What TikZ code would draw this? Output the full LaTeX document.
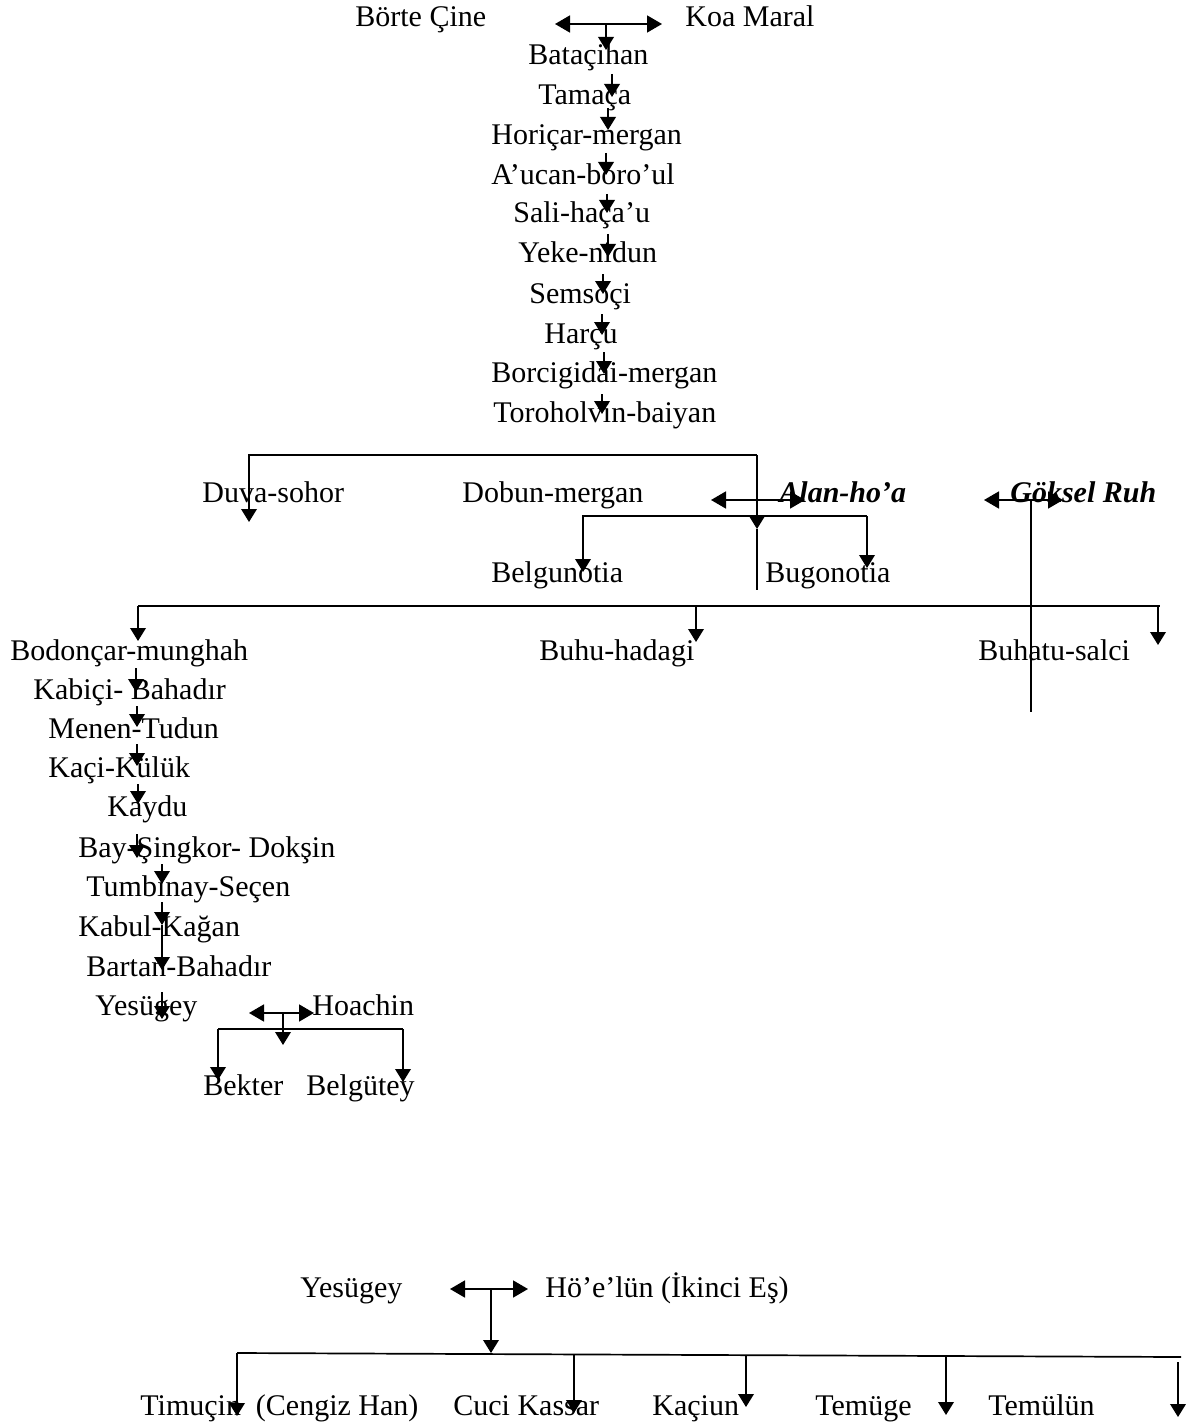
\documentclass[tikz,border=0pt]{standalone}
\usepackage{fontspec}
\setmainfont{Liberation Serif}
\usetikzlibrary{arrows.meta}
\begin{document}
\begin{tikzpicture}[x=0.5pt,y=-0.5pt,
  pname/.style={anchor=base west, inner sep=0pt, font=\fontsize{15pt}{18pt}\selectfont},
  bname/.style={pname, font=\fontsize{15pt}{18pt}\selectfont\bfseries\itshape},
  conn/.style={line width=0.85pt},
  arr/.style={conn, -{Triangle[length=6.5pt,width=7.8pt]}},
  dbl/.style={conn, {Triangle[length=7.5pt,width=8.5pt]}-{Triangle[length=7.5pt,width=8.5pt]}}]
\fill[white] (0,0) rectangle (1186,1423);
\useasboundingbox (0,0) rectangle (1186,1423);

% ---- top chain
\node[pname] (borte) at (355,27) {Börte Çine};
\node[pname] (koa) at (685,27) {Koa Maral};
\node[pname] (bata) at (528,65) {Bataçihan};
\node[pname] (tama) at (538,105) {Tamaça};
\node[pname] (hori) at (491,145) {Horiçar-mergan};
\node[pname] (aucan) at (491,185) {A’ucan-boro’ul};
\node[pname] (sali) at (513,223) {Sali-haça’u};
\node[pname] (yeke) at (518,263) {Yeke-nidun};
\node[pname] (sems) at (529,303) {Semsoçi};
\node[pname] (harcu) at (544,343) {Harçu};
\node[pname] (borc) at (491,382) {Borcigidai-mergan};
\node[pname] (toro) at (493,422) {Toroholvin-baiyan};

% ---- middle
\node[pname] (duva) at (202,502) {Duva-sohor};
\node[pname] (dobun) at (462,502) {Dobun-mergan};
\node[bname] (alan) at (779,502) {Alan-ho’a};
\node[bname] (goksel) at (1010,502) {Göksel Ruh};
\node[pname] (belgu) at (491,582) {Belgunotia};
\node[pname] (bugo) at (765,582) {Bugonotia};
\node[pname] (bodon) at (10,660) {Bodonçar-munghah};
\node[pname] (buhu) at (539,660) {Buhu-hadagi};
\node[pname] (buhatu) at (978,660) {Buhatu-salci};

% ---- lower chain
\node[pname] (kabici) at (33,699) {Kabiçi- Bahadır};
\node[pname] (menen) at (48,738) {Menen-Tudun};
\node[pname] (kaci) at (48,777) {Kaçi-Külük};
\node[pname] (kaydu) at (107,816) {Kaydu};
\node[pname] (bay) at (78,857) {Bay-Şingkor- Dokşin};
\node[pname] (tumb) at (86,896) {Tumbinay-Seçen};
\node[pname] (kabul) at (78,936) {Kabul-Kağan};
\node[pname] (bartan) at (86,976) {Bartan-Bahadır};
\node[pname] (yesu) at (95,1015) {Yesügey};
\node[pname] (hoachin) at (312,1015) {Hoachin};
\node[pname] (bekter) at (203,1095) {Bekter};
\node[pname] (belgut) at (306,1095) {Belgütey};

% ---- bottom
\node[pname] (yesu2) at (300,1297) {Yesügey};
\node[pname] (hoelun) at (545,1297) {Hö’e’lün (İkinci Eş)};
\node[pname] (timucin) at (140,1415) {Timuçin~~(Cengiz Han)};
\node[pname] (cuci) at (453,1415) {Cuci Kassar};
\node[pname] (kaciun) at (652,1415) {Kaçiun};
\node[pname] (temuge) at (815,1415) {Temüge};
\node[pname] (temulun) at (988,1415) {Temülün};

% ---- chain arrows
\foreach \i/\x/\ya/\yb in {1/606/24/50, 2/612/74/97, 3/608/108/130, 4/606/153/175,
  5/607/194/213, 6/608/234/257, 7/603/274/294, 8/602/314/335, 9/604/352/374,
  10/602/394/414, 11/136/668/692, 12/137/706/727, 13/137/744/766, 14/138/784/804,
  15/137/834/858, 16/162/864/884, 17/162/902/925, 18/162/925/970, 19/162/992/1019}{
  \coordinate (cs\i) at (\x,\ya);
  \coordinate (ce\i) at (\x,\yb);
  \draw[arr] (cs\i) -- (ce\i);
}

% ---- couples
\coordinate (d1a) at (555,24); \coordinate (d1b) at (662,24);
\draw[dbl] (d1a) -- (d1b);
\coordinate (d2a) at (711,500); \coordinate (d2b) at (805,500);
\draw[dbl] (d2a) -- (d2b);
\coordinate (d3a) at (984,500); \coordinate (d3b) at (1063,500);
\draw[dbl] (d3a) -- (d3b);
\coordinate (d4a) at (249,1013); \coordinate (d4b) at (314,1013);
\draw[dbl] (d4a) -- (d4b);
\coordinate (d5a) at (450,1289); \coordinate (d5b) at (528,1289);
\draw[dbl] (d5a) -- (d5b);

% ---- Toroholvin split
\coordinate (t0) at (757,455);
\coordinate (t1) at (249,455);
\coordinate (t2) at (249,522);
\coordinate (t3) at (757,529);
\coordinate (t4) at (757,590);
\draw[arr] (t0) -- (t1) -- (t2);
\draw[arr] (t0) -- (t3);
\draw[conn] (t3) -- (t4);

% ---- Goksel Ruh vertical
\coordinate (g0) at (1031,500);
\coordinate (g1) at (1031,712);
\draw[conn] (g0) -- (g1);

% ---- Belgunotia / Bugonotia bracket
\coordinate (b0) at (583,516);
\coordinate (b1) at (867,516);
\coordinate (b2) at (583,572);
\coordinate (b3) at (867,568);
\draw[arr] (b1) -- (b0) -- (b2);
\draw[arr] (b1) -- (b3);

% ---- big line to three sons
\coordinate (s0) at (138,606);
\coordinate (s1) at (1160,606);
\coordinate (s2) at (696,606);
\coordinate (s3) at (1158,606);
\coordinate (e0) at (138,641);
\coordinate (e1) at (1158,645);
\coordinate (e2) at (696,642);
\draw[conn] (s0) -- (s1);
\draw[arr] (s0) -- (e0);
\draw[arr] (s2) -- (e2);
\draw[arr] (s3) -- (e1);

% ---- Yesugey & Hoachin children
\coordinate (h0) at (283,1013);
\coordinate (h1) at (283,1045);
\coordinate (hl) at (218,1029);
\coordinate (hr) at (403,1029);
\coordinate (hl2) at (218,1080);
\coordinate (hr2) at (403,1082);
\draw[arr] (h0) -- (h1);
\draw[conn] (hl) -- (hr);
\draw[arr] (hl) -- (hl2);
\draw[arr] (hr) -- (hr2);

% ---- Yesugey & Hoelun children
\coordinate (k0) at (491,1289);
\coordinate (k1) at (491,1353);
\coordinate (kl) at (237,1353);
\coordinate (kr) at (1181,1357);
\draw[arr] (k0) -- (k1);
\draw[conn] (kl) -- (kr);
\coordinate (kd1) at (237,1416);
\coordinate (kd2s) at (574,1354); \coordinate (kd2) at (574,1413);
\coordinate (kd3s) at (746,1355); \coordinate (kd3) at (746,1407);
\coordinate (kd4s) at (946,1356); \coordinate (kd4) at (946,1415);
\coordinate (kd5s) at (1178,1362); \coordinate (kd5) at (1178,1417);
\draw[arr] (kl) -- (kd1);
\draw[arr] (kd2s) -- (kd2);
\draw[arr] (kd3s) -- (kd3);
\draw[arr] (kd4s) -- (kd4);
\draw[arr] (kd5s) -- (kd5);
\end{tikzpicture}
\end{document}
